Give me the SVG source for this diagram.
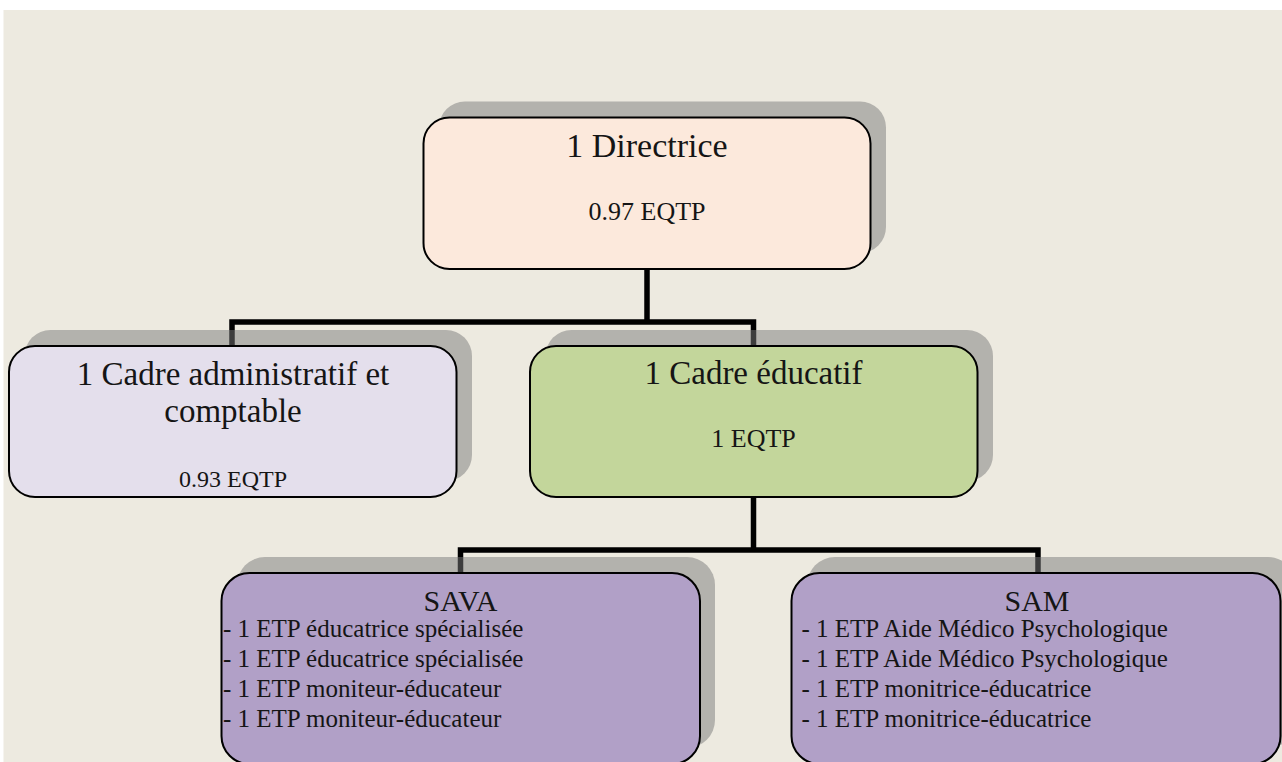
<svg xmlns="http://www.w3.org/2000/svg" width="1282" height="762" viewBox="0 0 1282 762">
<style>
.bg{fill:#edeae0}
.sh{fill:#7a7a7a;fill-opacity:0.5}
.box{stroke:#000;stroke-width:2}
.conn{fill:none;stroke:#000;stroke-width:5.5;stroke-linejoin:miter}
text{font-family:"Liberation Serif","Times New Roman",serif;fill:#151515}
.c{text-anchor:middle}
</style>
<rect x="0" y="0" width="1282" height="762" fill="#ffffff"/>
<rect class="bg" x="3.5" y="10" width="1279" height="752"/>
<g id="connectors">
<path class="conn" d="M647,269 V322 H232 V346 M647,322 H753.5 V346"/>
<path class="conn" d="M753.5,497 V550 H460.5 V573 M753.5,550 H1038 V573"/>
</g>
<g id="node-directrice">
<rect class="sh" x="439" y="101.5" width="447" height="151.5" rx="26"/>
<rect class="box" x="423.5" y="117.5" width="447" height="151.5" rx="26" fill="#fce9dc"/>
<text class="c" x="647" y="157" font-size="34">1 Directrice</text>
<text class="c" x="647" y="219.5" font-size="26">0.97 EQTP</text>
</g>
<g id="node-admin">
<rect class="sh" x="24.5" y="330" width="447.5" height="151" rx="26"/>
<rect class="box" x="9" y="346" width="447.5" height="151" rx="26" fill="#e4dfec"/>
<text class="c" x="233" y="385" font-size="33">1 Cadre administratif et</text>
<text class="c" x="233" y="422" font-size="33">comptable</text>
<text class="c" x="233" y="486.5" font-size="24">0.93 EQTP</text>
</g>
<g id="node-educatif">
<rect class="sh" x="545.5" y="330" width="447.5" height="151" rx="26"/>
<rect class="box" x="530" y="346" width="447.5" height="151" rx="26" fill="#c3d69b"/>
<text class="c" x="753.5" y="383.5" font-size="33">1 Cadre éducatif</text>
<text class="c" x="753.5" y="446.5" font-size="26">1 EQTP</text>
</g>
<g id="node-sava">
<rect class="sh" x="237" y="557" width="478" height="191" rx="28"/>
<rect class="box" x="221.5" y="573" width="478.5" height="191" rx="28" fill="#b1a0c7"/>
<text class="c" x="460.5" y="611" font-size="30">SAVA</text>
<text x="223" y="637" font-size="25">- 1 ETP éducatrice spécialisée</text>
<text x="223" y="667" font-size="25">- 1 ETP éducatrice spécialisée</text>
<text x="223" y="697" font-size="25">- 1 ETP moniteur-éducateur</text>
<text x="223" y="727" font-size="25">- 1 ETP moniteur-éducateur</text>
</g>
<g id="node-sam">
<rect class="sh" x="807" y="557" width="489" height="191" rx="28"/>
<rect class="box" x="791.5" y="573" width="489" height="191" rx="28" fill="#b1a0c7"/>
<text class="c" x="1037" y="611" font-size="30">SAM</text>
<text x="801.5" y="637" font-size="25">- 1 ETP Aide Médico Psychologique</text>
<text x="801.5" y="667" font-size="25">- 1 ETP Aide Médico Psychologique</text>
<text x="801.5" y="697" font-size="25">- 1 ETP monitrice-éducatrice</text>
<text x="801.5" y="727" font-size="25">- 1 ETP monitrice-éducatrice</text>
</g>
</svg>
